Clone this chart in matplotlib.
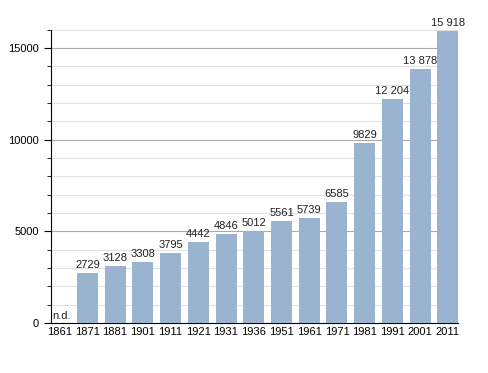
import matplotlib
matplotlib.use("Agg")
import matplotlib.pyplot as plt
from matplotlib.ticker import MultipleLocator

years = ["1861", "1871", "1881", "1901", "1911", "1921", "1931", "1936",
         "1951", "1961", "1971", "1981", "1991", "2001", "2011"]
population = [0, 2729, 3128, 3308, 3795, 4442, 4846, 5012,
              5561, 5739, 6585, 9829, 12204, 13878, 15918]
labels = ["n.d.", "2729", "3128", "3308", "3795", "4442", "4846", "5012",
          "5561", "5739", "6585", "9829", "12 204", "13 878", "15 918"]

plt.rcParams['font.family'] = ['Liberation Sans', 'DejaVu Sans']
fig = plt.figure(figsize=(4.88, 3.73), dpi=100)
ax = fig.add_axes([0.1045, 0.134, 0.835, 0.786])

w = 0.757
x = list(range(len(years)))
ax.bar(x, population, width=w, color='#9ab3cf', zorder=3)
for xi, v, lab in zip(x, population, labels):
    if v == 0:
        ax.text(-0.27, 120, lab, ha='left', va='bottom', fontsize=8, color='#222222', zorder=4)
    else:
        ax.text(xi, v + 170, lab, ha='center', va='bottom', fontsize=8, color='#222222', zorder=4)

ax.set_xlim(-0.31, 14.38)
ax.set_ylim(0, 16000)
ax.set_xticks(x)
ax.set_xticklabels(years, fontsize=8)
ax.tick_params(axis='x', length=0, pad=3)
ax.yaxis.set_major_locator(MultipleLocator(5000))
ax.yaxis.set_minor_locator(MultipleLocator(1000))
ax.tick_params(axis='y', which='major', length=5, labelsize=8, direction='out')
ax.tick_params(axis='y', which='minor', length=3, direction='out')
ax.grid(axis='y', which='major', color='#aaaaaa', linewidth=0.8, zorder=1)
ax.grid(axis='y', which='minor', color='#e2e2e2', linewidth=0.8, zorder=1)
for s in ['top', 'right']:
    ax.spines[s].set_visible(False)
ax.spines['left'].set_color('black')
ax.spines['bottom'].set_color('black')

fig.savefig("out.png", dpi=100)
